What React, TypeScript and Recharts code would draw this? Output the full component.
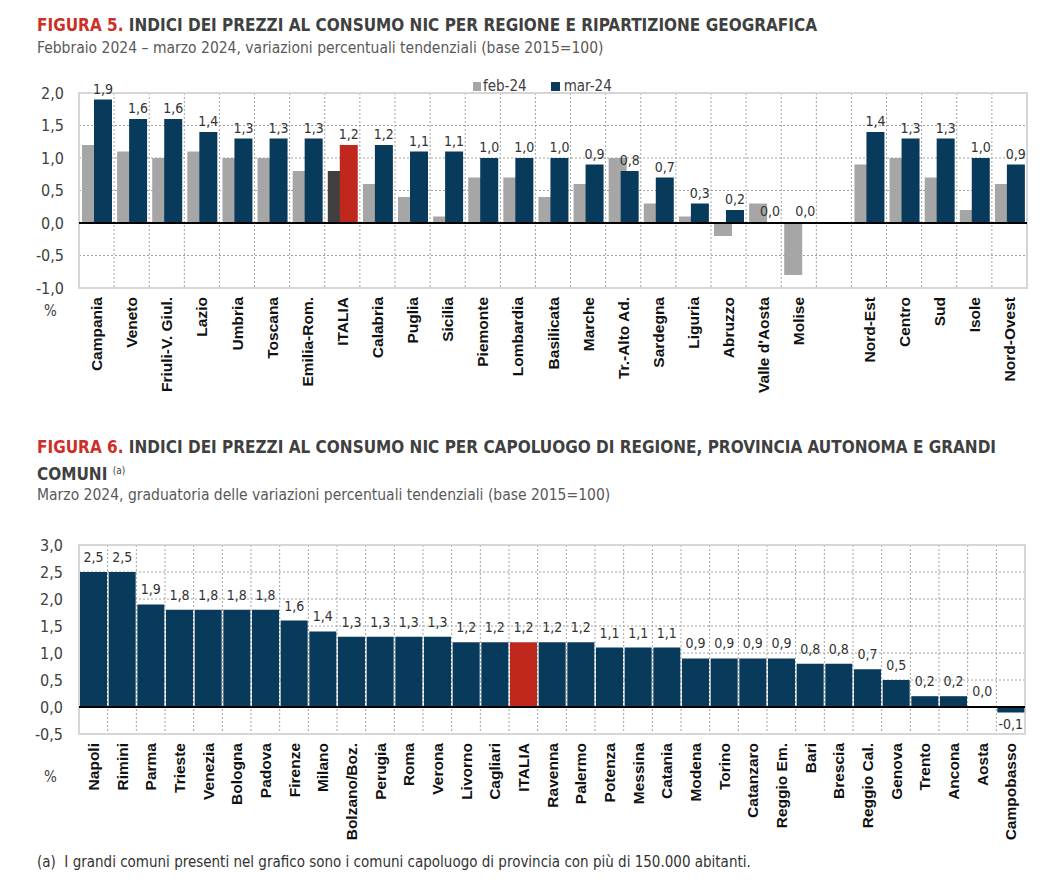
import { Bar, BarChart, CartesianGrid, Cell, LabelList, ReferenceArea, ReferenceLine, XAxis, YAxis } from "recharts";

const NARROW = "'Liberation Sans Narrow', 'Arial Narrow', 'DejaVu Sans Condensed', sans-serif";
const SANS = "'Liberation Sans', Arial, sans-serif";
const NAVY = "#083a5c";
const RED = "#c0281d";
const GREY = "#a6a6a6";
const DARK_GREY = "#404040";
const TITLE_RED = "#cc2f27";

// Figura 5 — regioni e ripartizioni (slot vuoto tra Molise e Nord-Est)
const regions = [
  "Campania", "Veneto", "Friuli-V. Giul.", "Lazio", "Umbria", "Toscana", "Emilia-Rom.", "ITALIA",
  "Calabria", "Puglia", "Sicilia", "Piemonte", "Lombardia", "Basilicata", "Marche", "Tr.-Alto Ad.",
  "Sardegna", "Liguria", "Abruzzo", "Valle d'Aosta", "Molise", "", "Nord-Est", "Centro", "Sud",
  "Isole", "Nord-Ovest",
];
const feb24 = [
  1.2, 1.1, 1.0, 1.1, 1.0, 1.0, 0.8, 0.8, 0.6, 0.4, 0.1, 0.7, 0.7, 0.4, 0.6, 1.0, 0.3, 0.1, -0.2,
  0.3, -0.8, null, 0.9, 1.0, 0.7, 0.2, 0.6,
];
const mar24 = [
  1.9, 1.6, 1.6, 1.4, 1.3, 1.3, 1.3, 1.2, 1.2, 1.1, 1.1, 1.0, 1.0, 1.0, 0.9, 0.8, 0.7, 0.3, 0.2,
  0.0, 0.0, null, 1.4, 1.3, 1.3, 1.0, 0.9,
];
const regionTicks = [-1, -0.5, 0, 0.5, 1, 1.5, 2];

// Figura 6 — capoluoghi, marzo 2024
const cities = [
  "Napoli", "Rimini", "Parma", "Trieste", "Venezia", "Bologna", "Padova", "Firenze", "Milano",
  "Bolzano/Boz.", "Perugia", "Roma", "Verona", "Livorno", "Cagliari", "ITALIA", "Ravenna",
  "Palermo", "Potenza", "Messina", "Catania", "Modena", "Torino", "Catanzaro", "Reggio Em.",
  "Bari", "Brescia", "Reggio Cal.", "Genova", "Trento", "Ancona", "Aosta", "Campobasso",
];
const cityValues = [
  2.5, 2.5, 1.9, 1.8, 1.8, 1.8, 1.8, 1.6, 1.4, 1.3, 1.3, 1.3, 1.3, 1.2, 1.2, 1.2, 1.2, 1.2, 1.1,
  1.1, 1.1, 0.9, 0.9, 0.9, 0.9, 0.8, 0.8, 0.7, 0.5, 0.2, 0.2, 0.0, -0.1,
];
const cityTicks = [-0.5, 0, 0.5, 1, 1.5, 2, 2.5, 3];

const regionData = regions.map((name, i) => ({ name, feb: feb24[i], mar: mar24[i] }));
const cityData = cities.map((name, i) => ({ name, value: cityValues[i] }));

const fmt = (v: number) => v.toFixed(1).replace(".", ",");

// linee verticali sui confini delle categorie, non al centro
const boundaries = (n: number) => (props: any) => {
  const { offset } = props;
  const step = offset.width / n;
  return Array.from({ length: n - 1 }, (_, i) => offset.left + step * (i + 1));
};

function CategoryTick(props: any) {
  const { x, y, payload } = props;
  return (
    <g transform={`translate(${x},${y})`}>
      <text
        transform="rotate(-90)"
        x={-9}
        dy="0.36em"
        textAnchor="end"
        fontSize={15.5}
        fontWeight="bold"
        fontFamily={SANS}
        fill="#111"
      >
        {payload.value}
      </text>
    </g>
  );
}

const valueLabel = (above: number, below: number) => (props: any) => {
  const { x, y, width, height, value } = props;
  if (value == null) return null;
  const top = Math.min(y, y + height);
  const bottom = Math.max(y, y + height);
  return (
    <text
      x={x + width / 2}
      y={value < 0 ? bottom + below : top - above}
      textAnchor="middle"
      fontSize={14}
      fontFamily={NARROW}
      fill="#333"
    >
      {fmt(value)}
    </text>
  );
};

const yTick = { fill: "#404040", fontSize: 16, fontFamily: NARROW };
const gridStroke = "#a3a3a3";

function Title({ top, num, children }: { top: number; num: string; children: React.ReactNode }) {
  return (
    <div
      style={{
        position: "absolute",
        left: 37,
        top,
        fontFamily: NARROW,
        fontWeight: "bold",
        fontSize: 17,
        lineHeight: "23px",
        color: "#404040",
        whiteSpace: "nowrap",
      }}
    >
      <span style={{ color: TITLE_RED }}>{num}</span> {children}
    </div>
  );
}

const textAt = (left: number, top: number, size: number, color = "#595959") => ({
  position: "absolute" as const,
  left,
  top,
  fontFamily: NARROW,
  fontSize: size,
  lineHeight: `${Math.round(size + 4)}px`,
  color,
  whiteSpace: "nowrap" as const,
});

export default function App() {
  return (
    <div style={{ position: "absolute", left: 0, top: 0, width: 1051, height: 892, background: "#fff" }}>
      <Title top={14} num="FIGURA 5.">
        INDICI DEI PREZZI AL CONSUMO NIC PER REGIONE E RIPARTIZIONE GEOGRAFICA
      </Title>
      <div style={textAt(37, 38, 15.5)}>
        Febbraio 2024 – marzo 2024, variazioni percentuali tendenziali (base 2015=100)
      </div>

      <div style={{ position: "absolute", left: 0, top: 60 }}>
        <BarChart
          width={1051}
          height={360}
          data={regionData}
          margin={{ top: 33, right: 24, left: 0, bottom: 0 }}
          barGap={-6}
        >
          <CartesianGrid
            stroke={gridStroke}
            strokeDasharray="2 2"
            verticalCoordinatesGenerator={boundaries(regions.length)}
          />
          <ReferenceArea y1={-1} y2={2} fill="none" stroke="#d6d6d6" strokeWidth={2} />
          <XAxis
            dataKey="name"
            interval={0}
            height={132}
            tickSize={0}
            tickMargin={0}
            axisLine={false}
            tickLine={false}
            tick={<CategoryTick />}
          />
          <YAxis
            domain={[-1, 2]}
            ticks={regionTicks}
            width={79}
            axisLine={false}
            tickLine={false}
            tickMargin={9}
            tick={yTick}
            tickFormatter={fmt}
          />
          <Bar dataKey="feb" barSize={18} fill={GREY} isAnimationActive={false}>
            {regionData.map((d) => (
              <Cell key={d.name} fill={d.name === "ITALIA" ? DARK_GREY : GREY} />
            ))}
          </Bar>
          <Bar dataKey="mar" barSize={18} fill={NAVY} minPointSize={1} isAnimationActive={false}>
            {regionData.map((d) => (
              <Cell key={d.name} fill={d.name === "ITALIA" ? RED : NAVY} />
            ))}
            <LabelList dataKey="mar" content={valueLabel(6, 14)} />
          </Bar>
          <ReferenceLine y={0} stroke="#000" strokeWidth={2} />
        </BarChart>
      </div>

      {/* legenda */}
      <div style={{ ...textAt(473, 77, 15, "#404040"), display: "flex", alignItems: "center" }}>
        <span style={{ width: 8, height: 9, background: GREY, marginRight: 2 }} />
        feb-24
        <span style={{ width: 9, height: 9, background: NAVY, marginLeft: 24, marginRight: 4 }} />
        mar-24
      </div>
      <div style={textAt(44, 302, 15, "#404040")}>%</div>

      <Title top={436} num="FIGURA 6.">
        INDICI DEI PREZZI AL CONSUMO NIC PER CAPOLUOGO DI REGIONE, PROVINCIA AUTONOMA E GRANDI
        <br />
        COMUNI <sup style={{ fontSize: 10, fontWeight: "normal", verticalAlign: 6 }}>(a)</sup>
      </Title>
      <div style={textAt(37, 485, 15.5)}>
        Marzo 2024, graduatoria delle variazioni percentuali tendenziali (base 2015=100)
      </div>

      <div style={{ position: "absolute", left: 0, top: 520 }}>
        <BarChart
          width={1051}
          height={360}
          data={cityData}
          margin={{ top: 25, right: 26, left: 0, bottom: 0 }}
          barCategoryGap={1}
        >
          <CartesianGrid
            stroke={gridStroke}
            strokeDasharray="2 2"
            verticalCoordinatesGenerator={boundaries(cities.length)}
          />
          <ReferenceArea y1={-0.5} y2={3} fill="none" stroke="#d6d6d6" strokeWidth={2} />
          <XAxis
            dataKey="name"
            interval={0}
            height={146}
            tickSize={0}
            tickMargin={0}
            axisLine={false}
            tickLine={false}
            tick={<CategoryTick />}
          />
          <YAxis
            domain={[-0.5, 3]}
            ticks={cityTicks}
            width={79}
            axisLine={false}
            tickLine={false}
            tickMargin={10}
            tick={yTick}
            tickFormatter={fmt}
          />
          <Bar dataKey="value" fill={NAVY} minPointSize={1} isAnimationActive={false}>
            {cityData.map((d) => (
              <Cell key={d.name} fill={d.name === "ITALIA" ? RED : NAVY} />
            ))}
            <LabelList dataKey="value" content={valueLabel(10, 17)} />
          </Bar>
          <ReferenceLine y={0} stroke="#000" strokeWidth={2} />
        </BarChart>
      </div>
      <div style={textAt(44, 768, 15, "#404040")}>%</div>

      <div style={textAt(37, 853, 15, "#333")}>
        (a)&nbsp; I grandi comuni presenti nel grafico sono i comuni capoluogo di provincia con più di 150.000 abitanti.
      </div>
    </div>
  );
}
